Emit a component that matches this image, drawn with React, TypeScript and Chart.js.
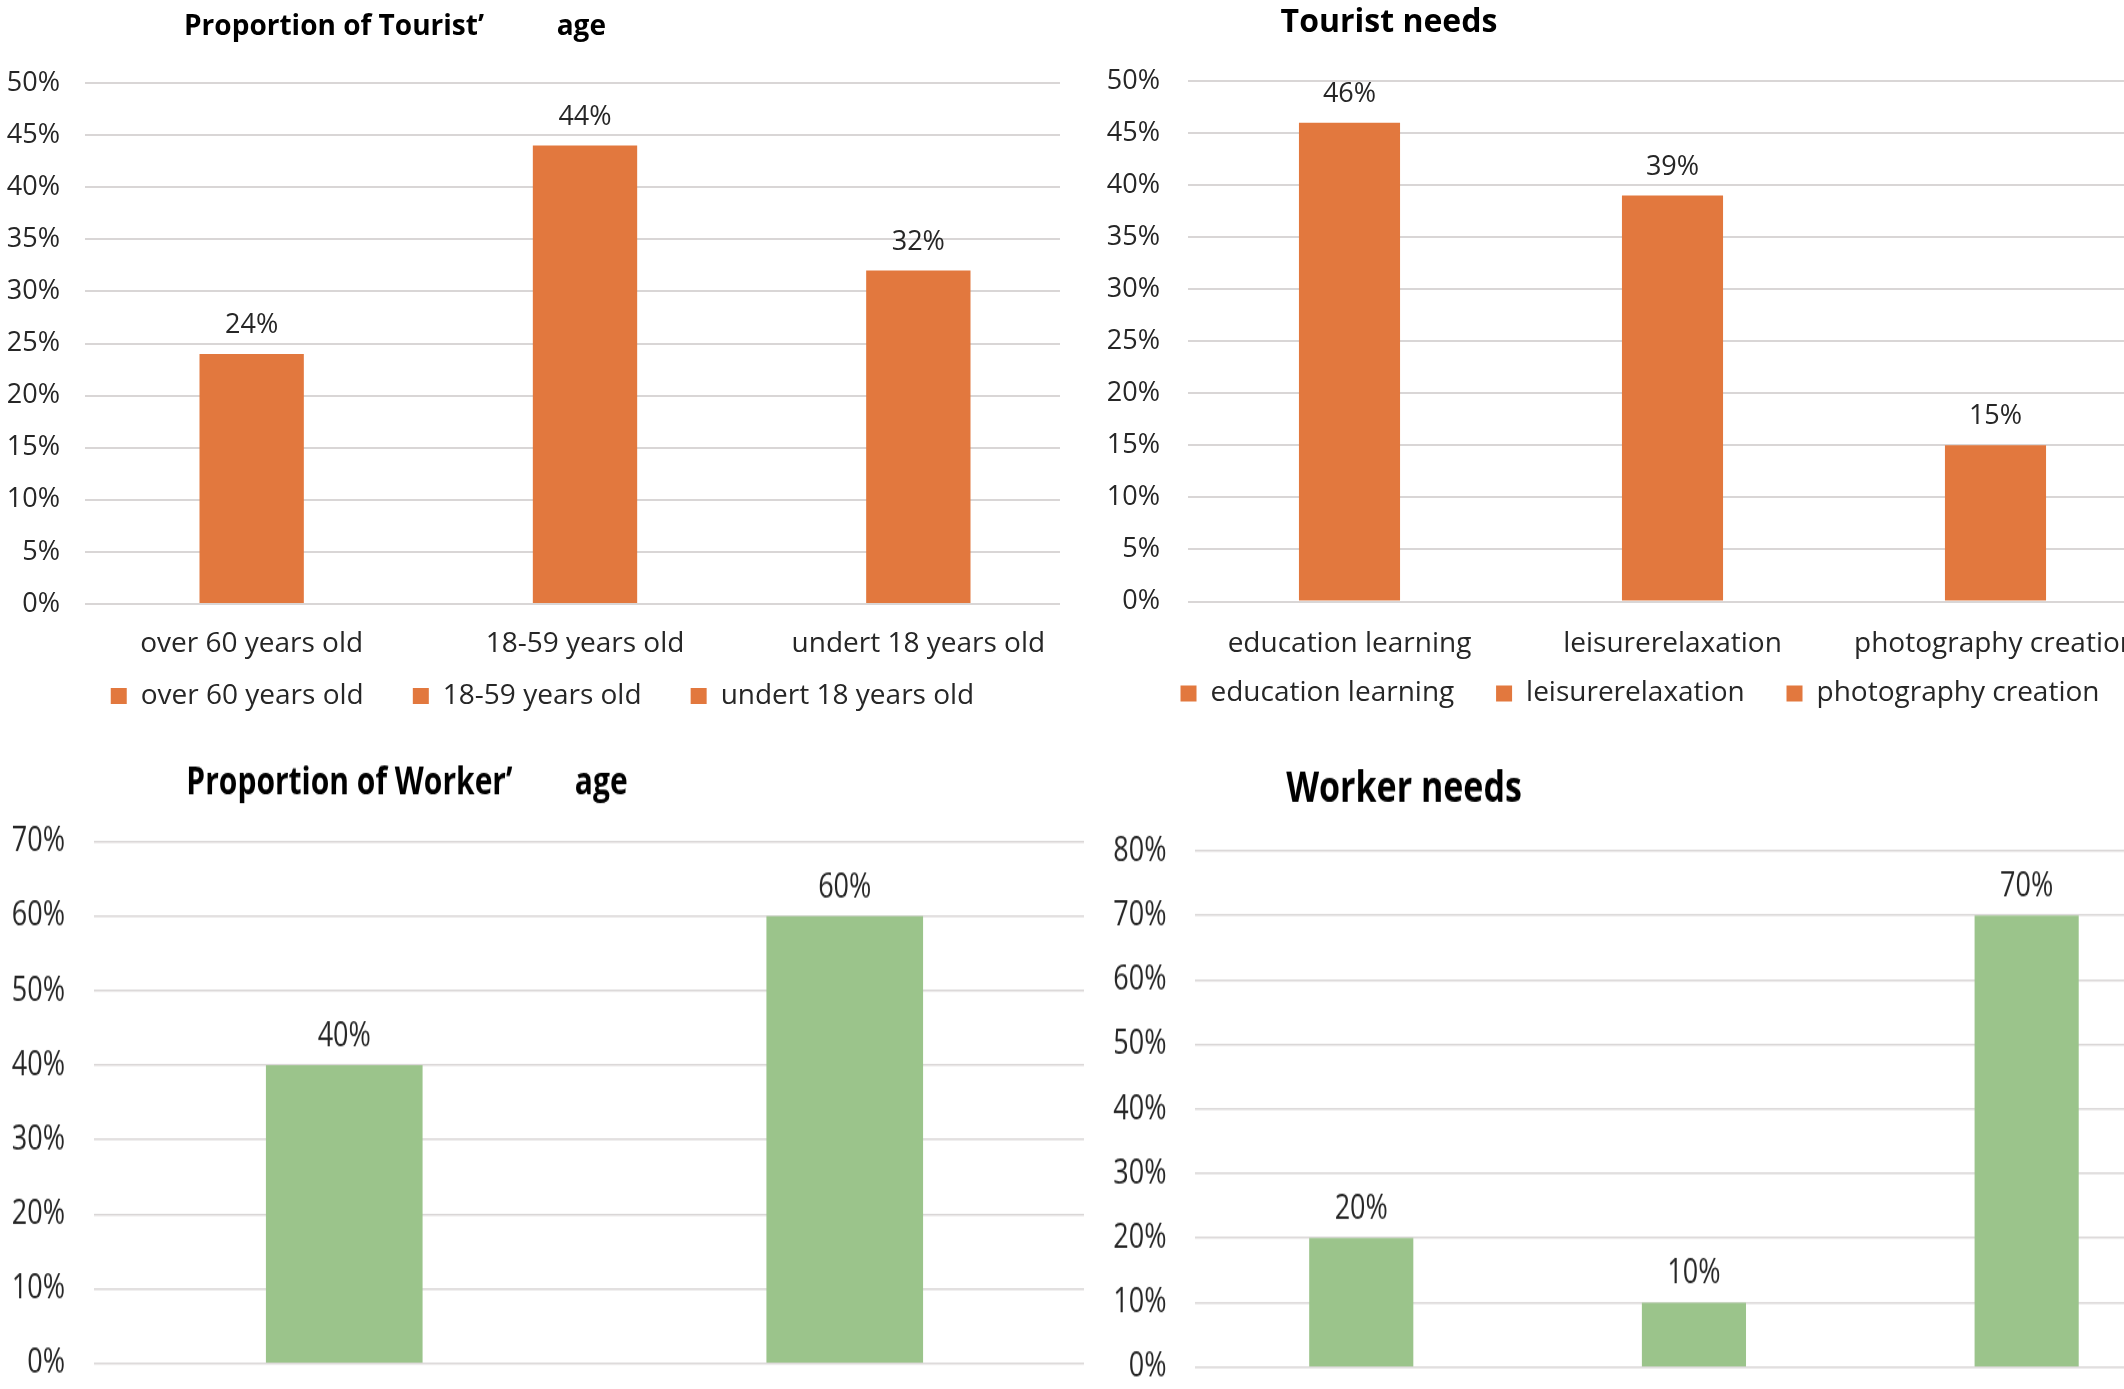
import React, { useEffect, useRef } from 'react';
import { Chart, registerables } from 'chart.js';

Chart.register(...registerables);

const FONT = "'Open Sans', 'Noto Sans', sans-serif";
const TEXT = '#262626';
const TITLE_COLOR = '#000000';
const GRID = '#d9d6d6';
const ORANGE = '#e2783e';
const GREEN = '#9bc48b';

// ---- data ----
const touristAgeTitle = 'Proportion of Tourist’          age';
const touristAgeLabels = ['over 60 years old', '18-59 years old', 'undert 18 years old'];
const touristAgeValues = [24, 44, 32];

const touristNeedsTitle = 'Tourist needs';
const touristNeedsLabels = ['education learning', 'leisurerelaxation', 'photography creation'];
const touristNeedsValues = [46, 39, 15];

const workerAgeTitle = 'Proportion of Worker’        age';
const workerAgeLabels = ['worker group 1', 'worker group 2']; // axis labels cut off in the source
const workerAgeValues = [40, 60];

const workerNeedsTitle = 'Worker needs';
const workerNeedsLabels = ['need 1', 'need 2', 'need 3']; // axis labels cut off in the source
const workerNeedsValues = [20, 10, 70];

// ---- plugins ----
const sheetTitle = {
  id: 'sheetTitle',
  afterDraw(chart: any, _args: any, o: any) {
    if (!o || !o.text) return;
    const ctx = chart.ctx;
    ctx.save();
    ctx.font = `bold ${o.size}px ${FONT}`;
    ctx.fillStyle = TITLE_COLOR;
    ctx.textAlign = 'center';
    ctx.textBaseline = 'alphabetic';
    ctx.fillText(o.text, o.x, o.baseline);
    ctx.restore();
  },
};

const valueLabels = {
  id: 'valueLabels',
  afterDatasetsDraw(chart: any, _args: any, o: any) {
    if (!o || o.offset === undefined) return;
    const ctx = chart.ctx;
    ctx.save();
    ctx.font = `${o.size}px ${FONT}`;
    ctx.fillStyle = TEXT;
    ctx.textAlign = 'center';
    ctx.textBaseline = 'alphabetic';
    chart.data.datasets.forEach((ds: any, i: number) => {
      const meta = chart.getDatasetMeta(i);
      meta.data.forEach((el: any, j: number) => {
        ctx.fillText(ds.data[j] + '%', el.x, el.y - o.offset);
      });
    });
    ctx.restore();
  },
};

Chart.register(sheetTitle as any, valueLabels as any);

type Spec = {
  labels: string[];
  values: number[];
  color: string;
  max: number;
  step: number;
  title: string;
  titleX: number;
  titleBaseline: number;
  titleSize: number;
  padTop: number;
  padBottom: number;
  yWidth: number;
  yPad: number;
  showX: boolean;
  xPad: number;
  xHeight: number;
  legend: boolean;
  legendGap: number;
  rightWidth: number;
  labelOffset: number;
  gridWidth: number;
};

function buildConfig(p: Spec): any {
  const scales: any = {
    x: {
      display: p.showX,
      grid: { display: false, drawTicks: false },
      border: { display: false },
      ticks: {
        color: TEXT,
        font: { size: 28, family: FONT },
        padding: p.xPad,
        maxRotation: 0,
        minRotation: 0,
        autoSkip: false,
      },
      afterFit: (s: any) => {
        if (p.showX) s.height = p.xHeight;
      },
    },
    y: {
      min: 0,
      max: p.max,
      grid: { color: GRID, lineWidth: p.gridWidth, drawTicks: false },
      border: { display: false },
      ticks: {
        stepSize: p.step,
        color: TEXT,
        font: { size: 27, family: FONT },
        padding: p.yPad,
        callback: (v: any) => v + '%',
      },
      afterFit: (s: any) => {
        s.width = p.yWidth;
      },
    },
  };
  if (p.rightWidth > 0) {
    scales.r = {
      type: 'linear',
      position: 'right',
      display: true,
      grid: { display: false, drawTicks: false },
      border: { display: false },
      ticks: { display: false },
      afterFit: (s: any) => {
        s.width = p.rightWidth;
      },
    };
  }
  const gap = ' '.repeat(p.legendGap);
  return {
    type: 'bar',
    data: {
      labels: p.labels,
      datasets: [
        {
          data: p.values,
          backgroundColor: p.color,
          borderWidth: 0,
          barPercentage: 0.313,
          categoryPercentage: 1,
        },
      ],
    },
    options: {
      responsive: false,
      animation: false,
      devicePixelRatio: 1,
      layout: { padding: { top: p.padTop, bottom: p.padBottom, left: 0, right: 0 } },
      plugins: {
        tooltip: { enabled: false },
        title: { display: false },
        legend: p.legend
          ? {
              display: true,
              position: 'bottom',
              labels: {
                boxWidth: 16,
                boxHeight: 16,
                padding: 20,
                color: TEXT,
                font: { size: 28, family: FONT },
                generateLabels: (chart: any) =>
                  chart.data.labels.map((t: string, i: number, arr: string[]) => ({
                    text: i < arr.length - 1 ? t + gap : t,
                    fillStyle: p.color,
                    strokeStyle: p.color,
                    lineWidth: 0,
                    hidden: false,
                    index: i,
                    fontColor: TEXT,
                  })),
              },
            }
          : { display: false },
        sheetTitle: { text: p.title, x: p.titleX, baseline: p.titleBaseline, size: p.titleSize },
        valueLabels: { offset: p.labelOffset, size: 27 },
      },
      scales,
    },
  };
}

function Panel(props: {
  spec: Spec;
  left: number;
  top: number;
  width: number;
  height: number;
  clipHeight: number;
  stretch: number;
}) {
  const { spec, left, top, width, height, clipHeight, stretch } = props;
  const ref = useRef<HTMLCanvasElement | null>(null);
  useEffect(() => {
    if (!ref.current) return;
    const chart = new Chart(ref.current, buildConfig(spec));
    return () => chart.destroy();
  }, []);
  return (
    <div
      style={{
        position: 'absolute',
        left,
        top,
        width,
        height: clipHeight,
        overflow: 'hidden',
        background: '#ffffff',
      }}
    >
      <canvas
        ref={ref}
        width={width}
        height={height}
        style={{
          display: 'block',
          width,
          height,
          transform: `scaleY(${stretch})`,
          transformOrigin: '0 0',
        }}
      />
    </div>
  );
}

const K = 1.26;

const specA: Spec = {
  labels: touristAgeLabels,
  values: touristAgeValues,
  color: ORANGE,
  max: 50,
  step: 5,
  title: touristAgeTitle,
  titleX: 395,
  titleBaseline: 35,
  titleSize: 28,
  padTop: 83,
  padBottom: 10,
  yWidth: 85,
  yPad: 25,
  showX: true,
  xPad: 23.2,
  xHeight: 58,
  legend: true,
  legendGap: 4,
  rightWidth: 0,
  labelOffset: 21,
  gridWidth: 2,
};

const specB: Spec = {
  labels: touristNeedsLabels,
  values: touristNeedsValues,
  color: ORANGE,
  max: 50,
  step: 5,
  title: touristNeedsTitle,
  titleX: 329,
  titleBaseline: 32,
  titleSize: 32,
  padTop: 81,
  padBottom: 12.5,
  yWidth: 128,
  yPad: 28,
  showX: true,
  xPad: 25.7,
  xHeight: 58,
  legend: true,
  legendGap: 3,
  rightWidth: 63,
  labelOffset: 21,
  gridWidth: 2,
};

const specC: Spec = {
  labels: workerAgeLabels,
  values: workerAgeValues,
  color: GREEN,
  max: 70,
  step: 10,
  title: workerAgeTitle,
  titleX: 407,
  titleBaseline: 51.2,
  titleSize: 30,
  padTop: 88.6,
  padBottom: 57.3,
  yWidth: 94,
  yPad: 29,
  showX: false,
  xPad: 0,
  xHeight: 0,
  legend: false,
  legendGap: 0,
  rightWidth: 0,
  labelOffset: 15,
  gridWidth: 1.6,
};

const specD: Spec = {
  labels: workerNeedsLabels,
  values: workerNeedsValues,
  color: GREEN,
  max: 80,
  step: 10,
  title: workerNeedsTitle,
  titleX: 320,
  titleBaseline: 57.1,
  titleSize: 34,
  padTop: 96,
  padBottom: 54.3,
  yWidth: 110.9,
  yPad: 28.4,
  showX: false,
  xPad: 0,
  xHeight: 0,
  legend: false,
  legendGap: 0,
  rightWidth: 0,
  labelOffset: 15.5,
  gridWidth: 1.6,
};

export default function App() {
  return (
    <div
      style={{
        position: 'absolute',
        left: 0,
        top: 0,
        width: 2124,
        height: 1389,
        overflow: 'hidden',
        background: '#ffffff',
      }}
    >
      <Panel spec={specA} left={0} top={0} width={1085} height={730} clipHeight={730} stretch={1} />
      <Panel spec={specB} left={1060} top={0} width={1160} height={730} clipHeight={730} stretch={1} />
      <Panel spec={specC} left={0} top={730} width={1095} height={560} clipHeight={659} stretch={K} />
      <Panel spec={specD} left={1084} top={730} width={1109} height={560} clipHeight={659} stretch={K} />
    </div>
  );
}
